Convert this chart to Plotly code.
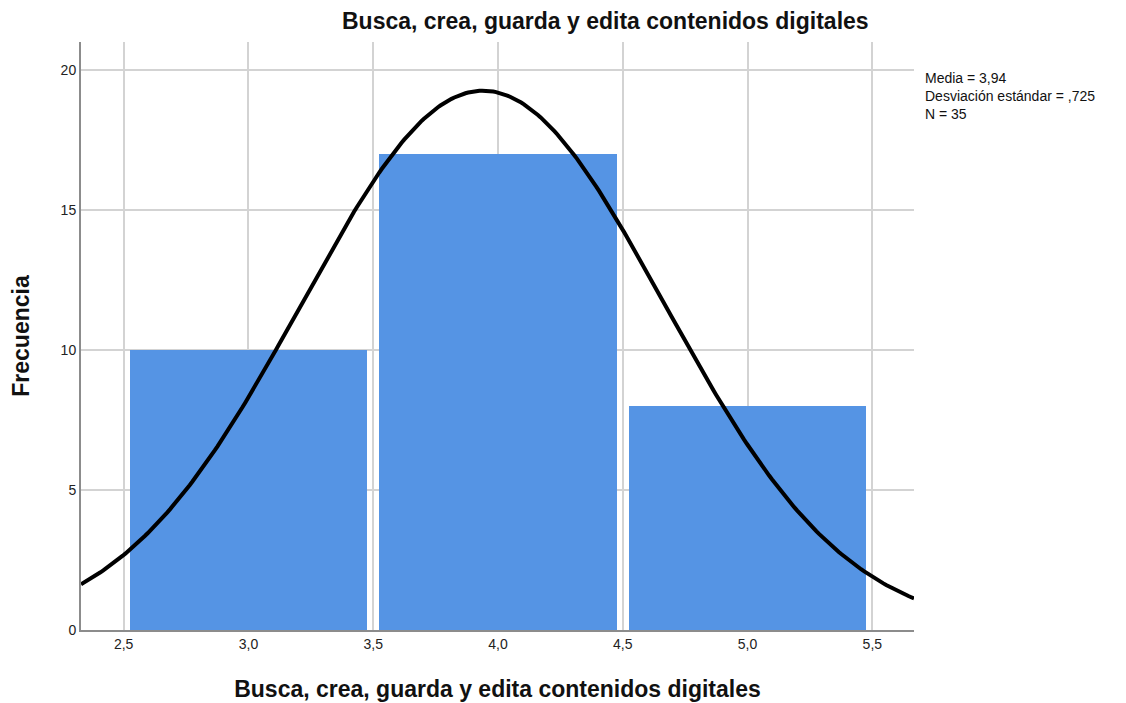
import numpy as np
import plotly.graph_objects as go

# histogram data
bin_centers = [3.0, 4.0, 5.0]
counts = [10, 17, 8]

# summary stats shown on the chart
media = 3.94
desv = 0.725
n = 35
bin_width = 1.0

x_ticks = [2.5, 3.0, 3.5, 4.0, 4.5, 5.0, 5.5]
y_ticks = [0, 5, 10, 15, 20]

title_txt = "Busca, crea, guarda y edita contenidos digitales"

x_range = [2.329, 5.667]

# normal curve from the stats above
xs = np.linspace(x_range[0], x_range[1], 300)
ys = n * bin_width / (desv * np.sqrt(2 * np.pi)) * np.exp(-0.5 * ((xs - media) / desv) ** 2)

fig = go.Figure()
fig.add_trace(go.Bar(x=bin_centers,
                     y=counts,
                     width=0.95,
                     marker=dict(color='#5594e4', line=dict(width=0)),
                     hoverinfo='x+y'))
fig.add_trace(go.Scatter(x=xs,
                         y=ys,
                         mode='lines',
                         line=dict(color='black', width=4),
                         hoverinfo='skip'))

# page has a small body offset, margins are shifted to compensate
ml, mt, pw, ph = 68, 34, 838, 588
fig.update_layout(
    width=1126, height=703,
    margin=dict(l=ml, r=1126 - ml - pw, t=mt, b=703 - mt - ph),
    paper_bgcolor='white',
    plot_bgcolor='white',
    showlegend=False,
    separators=',.',
    font=dict(family='Liberation Sans, Arial, sans-serif', size=14, color='#222'),
    bargap=0,
)
fig.update_xaxes(range=x_range,
                 tickvals=x_ticks,
                 tickformat='.1f',
                 showgrid=True, gridcolor='#d3d3d3', gridwidth=1.5,
                 showline=True, linecolor='#8c8c8c', linewidth=2,
                 zeroline=False, ticks='',
                 title=dict(text='<b>' + title_txt + '</b>',
                            font=dict(size=23, color='#111'), standoff=30))
fig.update_yaxes(range=[0, 21],
                 tickvals=y_ticks,
                 showgrid=True, gridcolor='#d3d3d3', gridwidth=1.5,
                 showline=True, linecolor='#8c8c8c', linewidth=2,
                 zeroline=False, ticks='',
                 title=dict(text='<b>Frecuencia</b>',
                            font=dict(size=23, color='#111'), standoff=25))

# chart title
fig.add_annotation(text='<b>' + title_txt + '</b>',
                   xref='paper', yref='paper',
                   x=0.63, y=1.0, yshift=21,
                   xanchor='center', yanchor='middle',
                   showarrow=False,
                   font=dict(size=23, color='#111'))

# stats box
stats_txt = ('Media = ' + f'{media:.2f}'.replace('.', ',') +
             '<br>Desviación estándar = ' + f'{desv:.3f}'.replace('0.', ',') +
             '<br>N = ' + str(n))
fig.add_annotation(text=stats_txt,
                   xref='paper', yref='paper',
                   x=1.0, xshift=9, y=(mt + ph - 60) / ph,
                   xanchor='left', yanchor='top', align='left',
                   showarrow=False,
                   font=dict(size=14, color='#111'))

fig.write_html("out.html")
